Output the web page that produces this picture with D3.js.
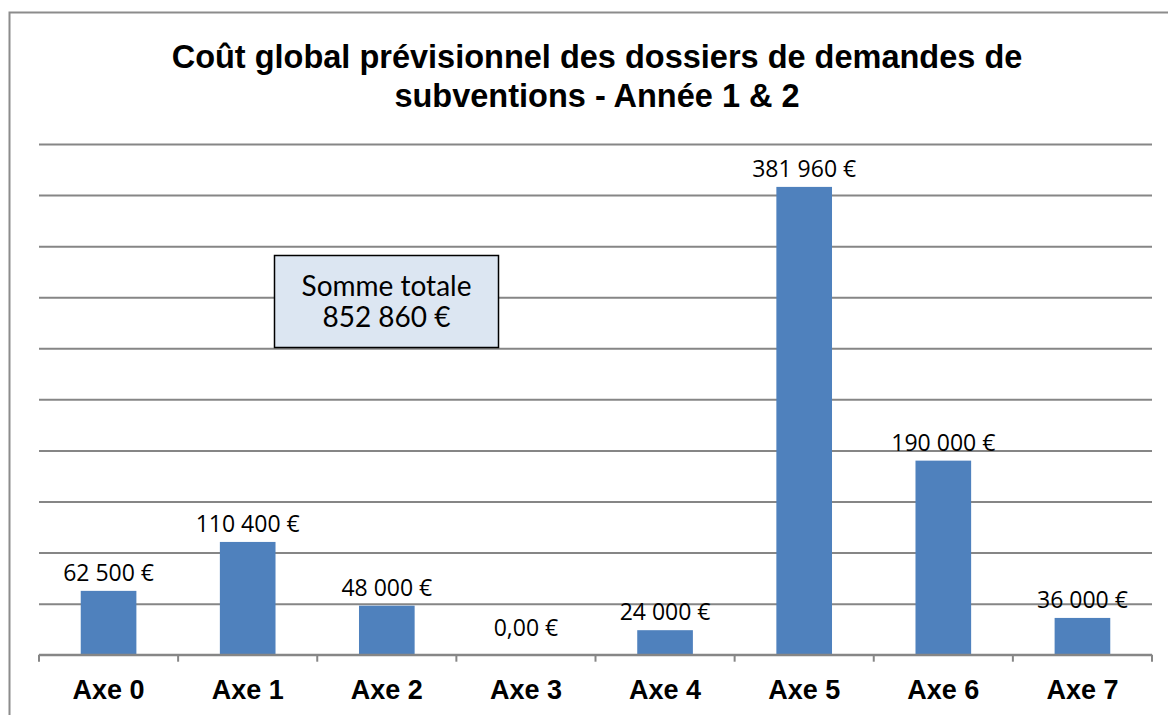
<!DOCTYPE html>
<meta charset="utf-8">
<style>
body { margin: 0; background: #fff; }
.title { font-family: "Liberation Sans", Arial, sans-serif; font-weight: bold; font-size: 32.5px; fill: #000; text-anchor: middle; }
.cat text { font-family: "Liberation Sans", Arial, sans-serif; font-weight: bold; font-size: 27px; fill: #000; }
.val { font-family: "Open Sans", sans-serif; font-size: 23px; fill: #000; text-anchor: middle; }
.box text { font-family: "Lato", sans-serif; font-size: 28px; fill: #000; text-anchor: middle; }
</style>
<body>
<script src="https://cdn.jsdelivr.net/npm/d3@7"></script>
<script>
// data
var categories = ["Axe 0", "Axe 1", "Axe 2", "Axe 3", "Axe 4", "Axe 5", "Axe 6", "Axe 7"];
// bar heights as drawn in the picture (Axe 5 bar is taller than its label)
var values = [62500, 110400, 48000, 0, 24000, 458000, 190000, 36000];
var valueLabels = ["62 500 €", "110 400 €", "48 000 €", "0,00 €", "24 000 €", "381 960 €", "190 000 €", "36 000 €"];
var yTicks = [0, 50000, 100000, 150000, 200000, 250000, 300000, 350000, 400000, 450000, 500000];
var titleLines = ["Coût global prévisionnel des dossiers de demandes de", "subventions - Année 1 & 2"];
var boxLines = ["Somme totale", "852 860 €"];

var W = 1168, H = 715;
var margin = {top: 144, right: 16, bottom: 60, left: 39},
    width = 1152 - margin.left,
    height = 654.7 - margin.top;

var svg = d3.select("body").append("svg")
    .attr("width", W)
    .attr("height", H);

// outer chart frame (cut off on the right and bottom)
svg.append("rect")
    .attr("x", 9.5).attr("y", 12.5)
    .attr("width", 1200).attr("height", 800)
    .attr("fill", "none")
    .attr("stroke", "#8c8c8c")
    .attr("stroke-width", 2);

svg.selectAll(".title")
    .data(titleLines)
  .enter().append("text")
    .attr("class", "title")
    .attr("x", 597)
    .attr("y", function(d, i) { return 68 + i * 39; })
    .text(function(d) { return d; });

var g = svg.append("g")
    .attr("transform", "translate(" + margin.left + "," + margin.top + ")");

var x = d3.scaleBand().domain(categories).range([0, width])
    .paddingInner(0.6).paddingOuter(0.3);
var y = d3.scaleLinear().domain([0, 500000]).range([height, 0]);

// gridlines
var grid = g.append("g")
    .call(d3.axisLeft(y).tickValues(yTicks).tickSize(-width).tickFormat(""));
grid.select(".domain").remove();
grid.selectAll("line").attr("stroke", "#868686").attr("stroke-width", 2);

// bars
g.selectAll(".bar")
    .data(values)
  .enter().append("rect")
    .attr("class", "bar")
    .attr("x", function(d, i) { return x(categories[i]); })
    .attr("y", function(d) { return y(d); })
    .attr("width", x.bandwidth())
    .attr("height", function(d) { return height - y(d); })
    .attr("fill", "#4f81bd");

// x axis: line + boundary ticks
var step = x.step();
var bounds = d3.range(categories.length + 1).map(function(i) { return i * step; });
g.append("line")
    .attr("x1", 0).attr("x2", width)
    .attr("y1", height).attr("y2", height)
    .attr("stroke", "#868686").attr("stroke-width", 2);
g.selectAll(".btick")
    .data(bounds)
  .enter().append("line")
    .attr("x1", function(d) { return d; }).attr("x2", function(d) { return d; })
    .attr("y1", height).attr("y2", height + 7)
    .attr("stroke", "#868686").attr("stroke-width", 2);

var xAxis = g.append("g")
    .attr("class", "cat")
    .attr("transform", "translate(0," + height + ")")
    .call(d3.axisBottom(x).tickSize(0).tickPadding(25));
xAxis.select(".domain").remove();

// value labels (zero label sits a bit higher, as in the original)
g.selectAll(".val")
    .data(values)
  .enter().append("text")
    .attr("class", "val")
    .attr("x", function(d, i) { return x(categories[i]) + x.bandwidth() / 2; })
    .attr("y", function(d) { return y(d) - (d === 0 ? 19 : 10); })
    .text(function(d, i) { return valueLabels[i]; });

// text box
var box = svg.append("g").attr("class", "box");
box.append("rect")
    .attr("x", 274.5).attr("y", 255.5)
    .attr("width", 224).attr("height", 92)
    .attr("fill", "#dce6f2")
    .attr("stroke", "#000")
    .attr("stroke-width", 1.5);
box.selectAll("text")
    .data(boxLines)
  .enter().append("text")
    .attr("x", 386.5)
    .attr("y", function(d, i) { return 296 + i * 31; })
    .text(function(d) { return d; });
</script>
</body>
